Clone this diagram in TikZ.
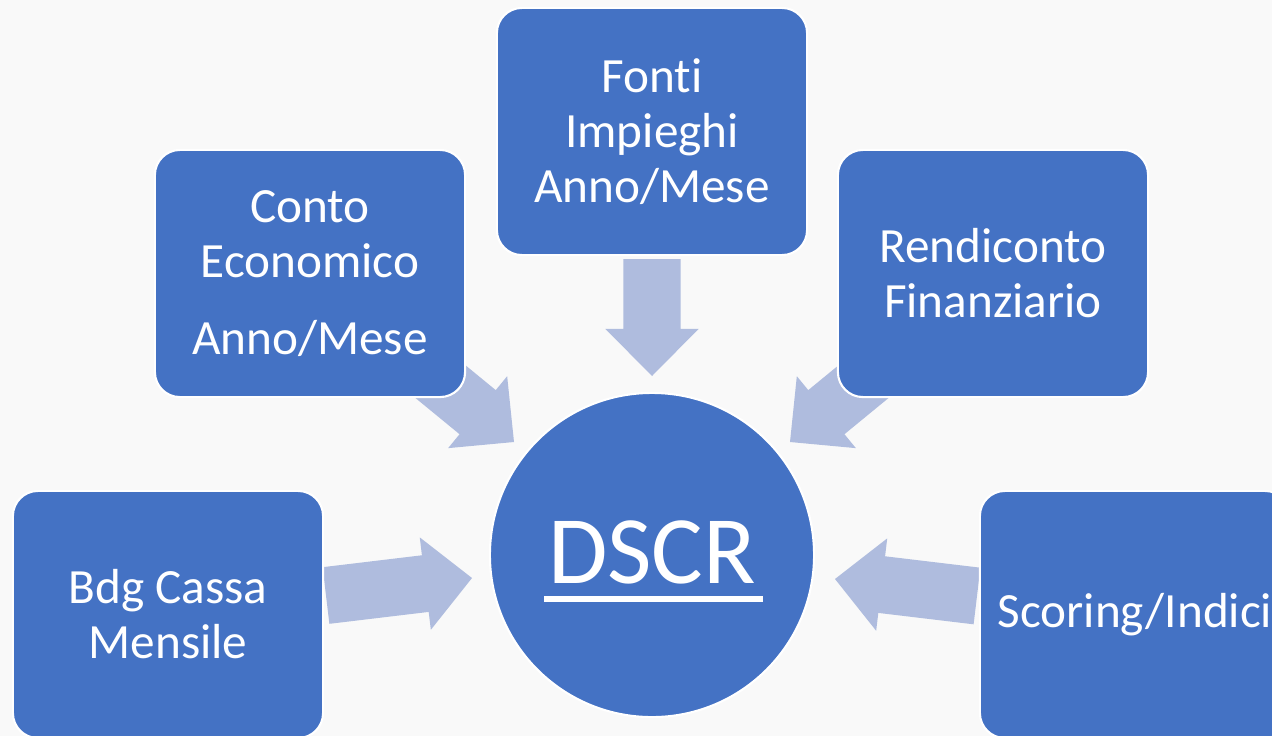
\documentclass[tikz,border=0pt]{standalone}
\usepackage{fontspec}
\setmainfont[Ligatures=NoCommon]{Carlito}
\usepackage{tikz}
\usetikzlibrary{calc}

\definecolor{boxblue}{RGB}{68,114,196}
\definecolor{arrowblue}{RGB}{175,188,222}
\definecolor{backgray}{RGB}{249,249,249}

\tikzset{
  bluebox/.style={rectangle,rounded corners=0.25cm,fill=boxblue,draw=white,line width=0.6pt,
    minimum width=3.1cm,minimum height=2.47cm,inner sep=0pt,align=center,text=white,
    font=\fontsize{14pt}{15.6pt}\selectfont},
}

% block arrow: #1 start, #2 tip
\newcommand{\blockarrow}[2]{%
  \coordinate (hb) at ($(#2)!0.47cm!(#1)$);
  \fill[color=arrowblue] ($(#1)!0.285cm!90:(#2)$) -- ($(hb)!0.285cm!90:(#2)$)
    -- ($(hb)!0.465cm!90:(#2)$) -- (#2) -- ($(hb)!0.465cm!-90:(#2)$)
    -- ($(hb)!0.285cm!-90:(#2)$) -- ($(#1)!0.285cm!-90:(#2)$) -- cycle;
}

\begin{document}
\begin{tikzpicture}[x=0.01cm,y=-0.01cm]
  \useasboundingbox (0,0) rectangle (1272,736);
  \clip (0,0) rectangle (1272,736);
  \fill[color=backgray] (0,0) rectangle (1272,736);

  \coordinate (fontiout) at (652,259);
  \coordinate (fontiin) at (652,376);
  \coordinate (contoout) at (408,355);
  \coordinate (contoin) at (514,442);
  \coordinate (rendout) at (896,355);
  \coordinate (rendin) at (790,442);
  \coordinate (bdgout) at (326,595.5);
  \coordinate (bdgin) at (472,578);
  \coordinate (scoreout) at (977,596);
  \coordinate (scorein) at (835,579);

  \blockarrow{fontiout}{fontiin}
  \blockarrow{contoout}{contoin}
  \blockarrow{rendout}{rendin}
  \blockarrow{bdgout}{bdgin}
  \blockarrow{scoreout}{scorein}

  \node[bluebox] (fonti) at (652,131.5) {Fonti\\Impieghi\\Anno/Mese};
  \node[bluebox] (conto) at (310,273.5) {Conto\\Economico\\[6.5pt]Anno/Mese};
  \node[bluebox] (rendiconto) at (993,273.5) {Rendiconto\\Finanziario};
  \node[bluebox] (bdg) at (168,614.5) {Bdg Cassa\\Mensile};
  \node[bluebox] (scoring) at (1135,614.5) {Scoring/Indici};

  \node[circle,fill=boxblue,draw=white,line width=0.6pt,minimum size=3.24cm,inner sep=0pt,
    text=white,text depth=1.7pt,font=\fontsize{27.5pt}{33pt}\selectfont] (dscr) at (652,555) {DSCR};
  \draw[color=white,line width=1.7pt] ($(dscr.center)+(-108,44)$) -- ($(dscr.center)+(111,44)$);
\end{tikzpicture}
\end{document}
